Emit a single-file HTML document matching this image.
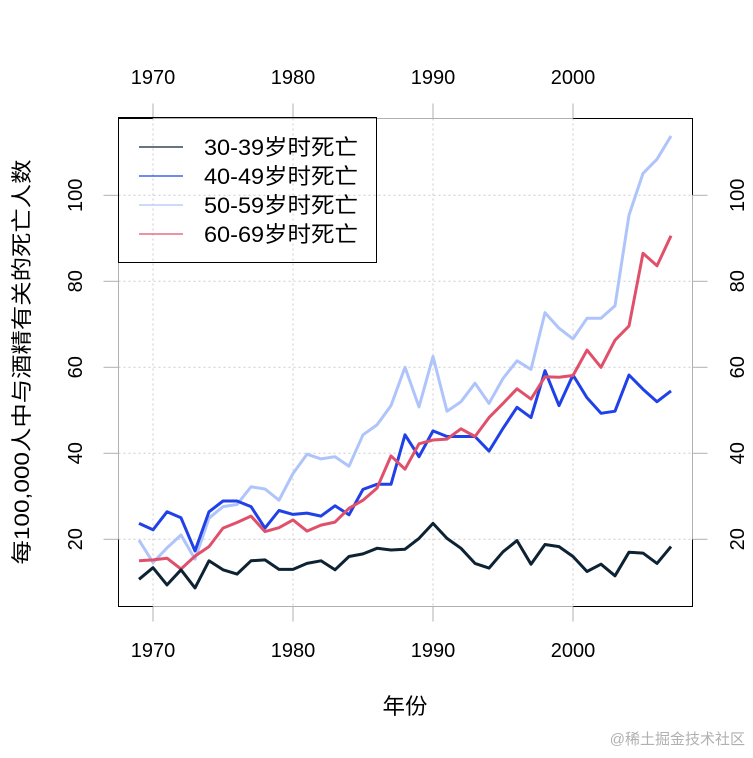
<!DOCTYPE html>
<html><head><meta charset="utf-8"><style>
html,body{margin:0;padding:0;background:#fff;}
svg text{font-family:"Liberation Sans","Noto Sans CJK SC",sans-serif;}
</style></head><body>
<svg id="chart" width="753" height="753" viewBox="0 0 753 753" xmlns="http://www.w3.org/2000/svg">
<g id="grid"></g>
<g id="axes"></g>
<g id="series"></g>
<g id="legend">
  <rect x="118.5" y="117.5" width="258" height="145" fill="none" stroke="#000" stroke-width="1"/>
</g>
<text x="405" y="714" font-size="22" text-anchor="middle" textLength="45" lengthAdjust="spacingAndGlyphs">年份</text>
<text transform="translate(29,362) rotate(-90)" font-size="21" text-anchor="middle" textLength="405" lengthAdjust="spacingAndGlyphs">每100,000人中与酒精有关的死亡人数</text>
<text x="745" y="744" font-size="15" fill="#b0b0b0" text-anchor="end">@稀土掘金技术社区</text>
</svg>
<script>
const years = [];
for (let y = 1969; y <= 2007; y++) years.push(y);
const s3039 = [10.7,13.4,9.4,12.9,8.7,15.0,12.9,11.9,15.0,15.2,13.0,13.0,14.4,15.0,12.9,16.0,16.6,17.9,17.5,17.7,20.2,23.7,20.2,17.9,14.4,13.3,17.1,19.7,14.2,18.8,18.3,16.0,12.5,14.2,11.5,17.0,16.8,14.4,18.3];
const s4049 = [23.7,22.2,26.4,25.0,17.3,26.4,28.9,28.9,27.6,22.6,26.7,25.8,26.1,25.4,27.8,25.7,31.6,32.8,32.8,44.3,39.2,45.2,43.9,43.9,43.9,40.5,45.8,50.7,48.3,59.2,51.1,58.2,52.9,49.3,49.8,58.2,54.9,52.0,54.5];
const s5059 = [19.8,14.6,18.0,21.0,15.4,24.9,27.6,28.1,32.2,31.7,29.1,35.3,39.8,38.7,39.2,37.0,44.3,46.6,51.1,60.0,50.8,62.5,49.8,52.0,56.3,51.6,57.4,61.5,59.5,72.7,69.1,66.6,71.4,71.4,74.3,95.4,105.1,108.4,113.8];
const s6069 = [15.0,15.2,15.6,13.1,16.1,18.3,22.6,23.9,25.4,21.8,22.7,24.5,21.9,23.3,24.0,27.2,29.1,31.9,39.4,36.3,42.2,43.1,43.3,45.7,43.9,48.3,51.6,55.0,52.6,57.8,57.7,58.1,64.0,60.0,66.3,69.6,86.5,83.6,90.6];
const xTicks = [1970,1980,1990,2000];
const yTicks = [20,40,60,80,100];
const seriesNames = ["30-39岁时死亡","40-49岁时死亡","50-59岁时死亡","60-69岁时死亡"];

const NS = "http://www.w3.org/2000/svg";
const L=118.5,R=692.5,T=118.5,B=606.5;
function xs(v){return 153+(v-1970)*14;}
function ys(v){return 539.3-(v-20)*4.3;}
function mk(tag,attrs,parent){const e=document.createElementNS(NS,tag);for(const k in attrs)e.setAttribute(k,attrs[k]);parent.appendChild(e);return e;}

const grid=document.getElementById('grid');
xTicks.forEach(t=>{
  const l=mk('line',{x1:xs(t),x2:xs(t),y1:T,y2:B,stroke:'#ccc','stroke-dasharray':'2,3'},grid);
  
  
});
yTicks.forEach(t=>{
  const l=mk('line',{x1:L,x2:R,y1:ys(t),y2:ys(t),stroke:'#ccc','stroke-dasharray':'2,3'},grid);
  
  
});

const axes=document.getElementById('axes');
const box=mk('rect',{x:L,y:T,width:R-L,height:B-T,fill:'none',stroke:'#000'},axes);


[[T,-15],[B,15]].forEach(([y0,d])=>{
  mk('line',{x1:xs(xTicks[0]),x2:xs(xTicks[xTicks.length-1]),y1:y0,y2:y0,stroke:'#b0b0b0'},axes);
  xTicks.forEach(t=>{
    mk('line',{x1:xs(t),x2:xs(t),y1:y0,y2:y0+d,stroke:'#b0b0b0'},axes);
    const tx=mk('text',{x:xs(t),y:d<0?84:657,'font-size':20,'text-anchor':'middle'},axes);
    tx.textContent=t;
    
    
  });
});
[[L,-15,82],[R,15,744]].forEach(([x0,d,lx])=>{
  mk('line',{x1:x0,x2:x0,y1:ys(yTicks[0]),y2:ys(yTicks[yTicks.length-1]),stroke:'#b0b0b0'},axes);
  yTicks.forEach(t=>{
    mk('line',{x1:x0,x2:x0+d,y1:ys(t),y2:ys(t),stroke:'#b0b0b0'},axes);
    const tx=mk('text',{transform:`translate(${lx},${ys(t)}) rotate(-90)`,'font-size':20,'text-anchor':'middle'},axes);
    tx.textContent=t;
    
    
  });
});

const sg=document.getElementById('series');
const allSeries=[s3039,s4049,s5059,s6069];
const colors=['#0d2233','#2040e8','#aec4fb','#e0506a'];
const order=[2,1,3,0];
order.forEach(i=>{
  const d=allSeries[i].map((v,j)=>(j?'L':'M')+xs(years[j]).toFixed(1)+','+ys(v).toFixed(1)).join(' ');
  const p=mk('path',{d:d,fill:'none',stroke:colors[i],'stroke-width':3,'stroke-linejoin':'round'},sg);
  
  
});

const lg=document.getElementById('legend');
seriesNames.forEach((n,i)=>{
  const y=147+i*29;
  const ln=mk('line',{x1:139,x2:183,y1:y,y2:y,stroke:colors[i],'stroke-width':1.3},lg);
  
  
  const tx=mk('text',{x:204,y:y+8,'font-size':22,textLength:154,lengthAdjust:'spacingAndGlyphs'},lg);
  tx.textContent=n;
  
  
});
</script>
</body></html>
